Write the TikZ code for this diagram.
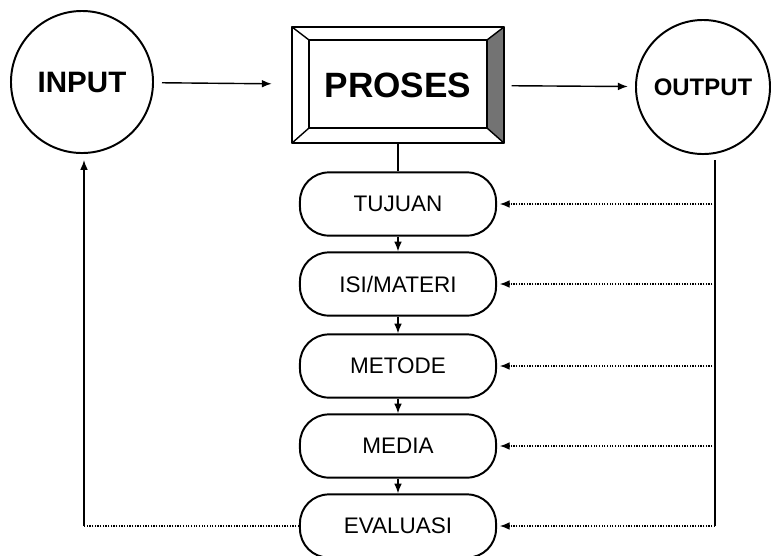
\documentclass[tikz,border=0pt]{standalone}
\usepackage{fontspec}
\setmainfont{Liberation Sans}
\usetikzlibrary{arrows.meta}
\begin{document}
\begin{tikzpicture}[x=0.025cm,y=-0.025cm,>={Latex[length=7pt,width=5.5pt]},line join=round,
	bubble/.style={circle,draw,line width=1.4pt,inner sep=0pt},
	pill/.style={draw,line width=1.4pt,rounded corners=0.72cm,minimum width=4.9cm,minimum height=1.58cm,font=\fontsize{16}{18}\selectfont},
	fb/.style={densely dotted,line width=0.9pt}]
	\useasboundingbox (0,0) rectangle (771,555);
	\node[bubble,minimum size=3.55cm,font=\fontsize{21}{24}\selectfont\bfseries] (inp) at (82,82) {INPUT};
	\node[bubble,minimum size=3.35cm,font=\fontsize{17}{20}\selectfont\bfseries] (out) at (703,87) {OUTPUT};
	\node[minimum width=5.3cm,minimum height=2.9cm,font=\fontsize{25}{28}\selectfont\bfseries] (pro) at (398,85) {PROSES};
	\fill[black!55] (pro.north east) -- (487,40) -- (487,128) -- (pro.south east) -- cycle;
	\draw[line width=1.4pt] (pro.north west) rectangle (pro.south east);
	\draw[line width=1.2pt] (309,40) rectangle (487,128);
	\draw[line width=1pt] (pro.north west) -- (309,40) (pro.north east) -- (487,40)
		(pro.south east) -- (487,128) (pro.south west) -- (309,128);
	\foreach \nm/\txt/\y in {tuj/TUJUAN/204,isi/{ISI/MATERI}/284,met/METODE/366,med/MEDIA/446,eva/EVALUASI/526}
		\node[pill] (\nm) at (398,\y) {\txt};
	\draw[->,line width=1pt,shorten <=0.2cm,shorten >=0.5cm] (inp) -- (pro);
	\draw[->,line width=1pt,shorten <=0.18cm,shorten >=0.18cm] (pro) -- (out);
	\draw[line width=1pt] (pro) -- (tuj);
	\foreach \a/\b in {tuj/isi,isi/met,met/med,med/eva}
		\draw[->,line width=1pt] (\a) -- (\b);
	\coordinate (rt) at (715,160);
	\coordinate (rb) at (715,526);
	\coordinate (lb) at (84,526);
	\draw[line width=1.2pt] (rt) -- (rb);
	\foreach \nm in {tuj,isi,met,med,eva}
		\draw[fb,->,shorten >=2pt] (rb |- \nm) -- (\nm.east);
	\draw[fb] (eva.west) -- (lb);
	\draw[->,line width=1pt,shorten >=0.15cm] (lb) -- (lb |- inp.south);
\end{tikzpicture}
\end{document}
